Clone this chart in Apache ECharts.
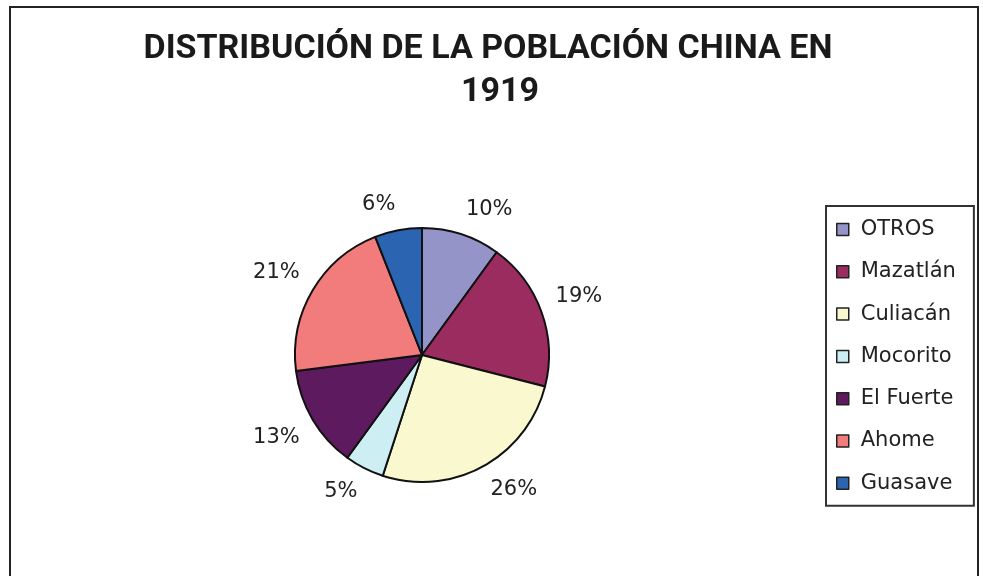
<!DOCTYPE html>
<html>
<head>
<meta charset="utf-8">
<script src="https://cdn.jsdelivr.net/npm/echarts@6/dist/echarts.min.js"></script>
<style>
  html, body { margin: 0; padding: 0; background: #fff; }
  #chart { width: 983px; height: 576px; }
</style>
</head>
<body>
<div id="chart"></div>
<script>
// data (percent of population, clockwise from 12 o'clock)
const regions = ['OTROS', 'Mazatlán', 'Culiacán', 'Mocorito', 'El Fuerte', 'Ahome', 'Guasave']
const shares = [10, 19, 26, 5, 13, 21, 6]
const colors = ['#9494C8', '#9B2C60', '#FAF8CF', '#CDEEF2', '#5E1A5E', '#F27C7C', '#2B65B1']

const pieCenter = [422, 355]
const labelGap = 142

const chart = echarts.init(document.getElementById('chart'), null, { renderer: 'canvas' })

const titleStyle = {
  fontFamily: 'Roboto',
  fontWeight: 'bold',
  fontSize: 34,
  lineHeight: 43,
  color: '#1a1a1a'
}

const option = {
  backgroundColor: '#fff',
  animation: false,
  color: colors,
  title: [
    { text: 'DISTRIBUCIÓN DE LA POBLACIÓN CHINA EN', left: 488, top: 28, textAlign: 'center', padding: 0, textStyle: titleStyle },
    { text: '1919', left: 500, top: 71, textAlign: 'center', padding: 0, textStyle: titleStyle }
  ],
  graphic: [
    {
      type: 'rect',
      shape: { x: 10, y: 7, width: 968, height: 600 },
      style: { fill: 'none', stroke: '#222', lineWidth: 2 },
      silent: true
    }
  ],
  legend: {
    orient: 'vertical',
    left: 826,
    top: 206,
    padding: [13, 18, 12, 10],
    itemGap: 21.3,
    itemWidth: 12,
    itemHeight: 12,
    icon: 'rect',
    borderColor: '#333',
    borderWidth: 2,
    itemStyle: { borderColor: '#222', borderWidth: 1.5 },
    textStyle: {
      fontFamily: 'DejaVu Sans',
      fontSize: 21,
      lineHeight: 21,
      color: '#222',
      padding: [0, 0, 0, 7]
    },
    data: regions
  },
  series: [
    {
      type: 'pie',
      center: pieCenter,
      radius: 127,
      startAngle: 90,
      clockwise: true,
      avoidLabelOverlap: false,
      itemStyle: { borderColor: '#111', borderWidth: 2 },
      label: {
        show: true,
        position: 'outside',
        formatter: '{d}%',
        fontFamily: 'DejaVu Sans',
        fontSize: 21,
        color: '#222'
      },
      labelLine: { show: false, length: 20, length2: 0 },
      // the label box's inner corner sits on the slice's mid-angle ray, a fixed distance out
      labelLayout: function (params) {
        const p = params.labelLinePoints && params.labelLinePoints[0]
        if (!p) return {}
        const dx = p[0] - pieCenter[0]
        const dy = p[1] - pieCenter[1]
        const len = Math.sqrt(dx * dx + dy * dy) || 1
        const hw = params.labelRect.width / 2
        const hh = params.labelRect.height / 2
        return {
          x: pieCenter[0] + dx / len * labelGap + Math.sign(dx) * hw,
          y: pieCenter[1] + dy / len * labelGap + Math.sign(dy) * hh,
          align: 'center',
          verticalAlign: 'middle'
        }
      },
      emphasis: { disabled: true },
      data: regions.map(function (name, i) {
        return { name: name, value: shares[i] }
      })
    }
  ]
}

chart.setOption(option)
</script>
</body>
</html>
